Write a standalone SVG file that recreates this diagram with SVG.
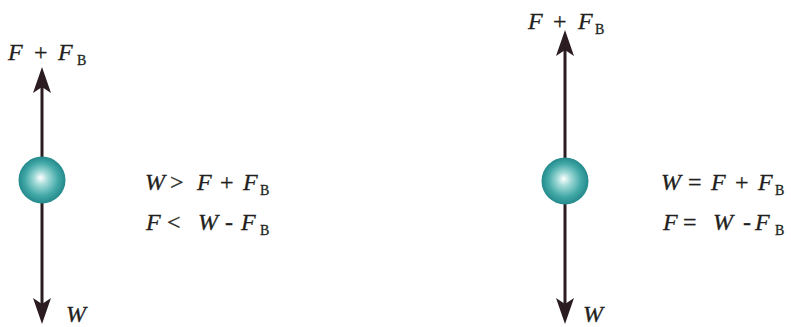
<svg xmlns="http://www.w3.org/2000/svg" width="791" height="327" viewBox="0 0 791 327">
<style>
text{font-family:"Liberation Serif","Times New Roman",serif;fill:#231f20;font-size:24px;stroke:#231f20;stroke-width:0.3}
.i{font-style:italic}
.s{font-size:14px}
.ax{stroke:#2a1c20;stroke-width:3;fill:none}
</style>
<defs>
<marker id="ah" markerUnits="userSpaceOnUse" markerWidth="26" markerHeight="18" viewBox="0 0 26 18" refX="6" refY="9" orient="auto-start-reverse">
<path d="M0,0 L26,9 L0,18 L6,9 Z" fill="#2a1c20"/>
</marker>
<radialGradient id="ball" cx="50%" cy="50%" r="50%" fx="47%" fy="45%">
<stop offset="0" stop-color="#ffffff"/>
<stop offset="0.3" stop-color="#9fd9d6"/>
<stop offset="0.7" stop-color="#43a9a8"/>
<stop offset="1" stop-color="#23898b"/>
</radialGradient>
</defs>
<g id="connectors">
<line class="ax" x1="42" y1="87" x2="42" y2="304" marker-start="url(#ah)" marker-end="url(#ah)"/>
<line class="ax" x1="565" y1="50" x2="565" y2="304" marker-start="url(#ah)" marker-end="url(#ah)"/>
</g>
<g id="ball-left"><circle cx="42" cy="180" r="23.5" fill="url(#ball)"/></g>
<g id="ball-right"><circle cx="565" cy="181" r="23.5" fill="url(#ball)"/></g>
<g id="label-left-top">
<text y="60"><tspan class="i" x="8">F</tspan><tspan x="34">+</tspan><tspan class="i" x="58">F</tspan><tspan class="s" x="77" y="65">B</tspan></text>
</g>
<g id="label-left-bottom"><text class="i" x="66" y="322">W</text></g>
<g id="eq-left">
<text y="190"><tspan class="i" x="145">W</tspan><tspan x="170">&gt;</tspan><tspan class="i" x="197">F</tspan><tspan x="220">+</tspan><tspan class="i" x="243">F</tspan><tspan class="s" x="260" y="195">B</tspan></text>
<text y="230"><tspan class="i" x="146">F</tspan><tspan x="167">&lt;</tspan><tspan class="i" x="198">W</tspan><tspan x="225">-</tspan><tspan class="i" x="241">F</tspan><tspan class="s" x="260" y="235">B</tspan></text>
</g>
<g id="label-right-top">
<text y="29"><tspan class="i" x="528">F</tspan><tspan x="553">+</tspan><tspan class="i" x="578">F</tspan><tspan class="s" x="595" y="34">B</tspan></text>
</g>
<g id="label-right-bottom"><text class="i" x="583" y="322">W</text></g>
<g id="eq-right">
<text y="190"><tspan class="i" x="661">W</tspan><tspan x="688">=</tspan><tspan class="i" x="711">F</tspan><tspan x="735">+</tspan><tspan class="i" x="758">F</tspan><tspan class="s" x="775" y="195">B</tspan></text>
<text y="230"><tspan class="i" x="663">F</tspan><tspan x="683">=</tspan><tspan class="i" x="713">W</tspan><tspan x="743">-</tspan><tspan class="i" x="755">F</tspan><tspan class="s" x="775" y="235">B</tspan></text>
</g>
</svg>
